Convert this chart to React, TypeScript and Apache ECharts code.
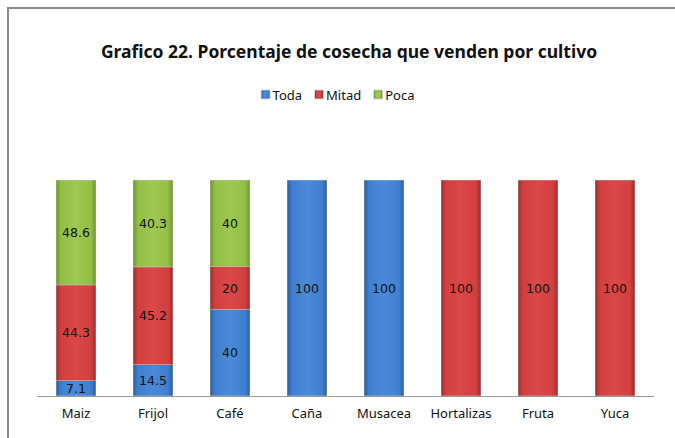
import React, { useEffect, useRef } from "react";
import * as echarts from "echarts";

const categories = ["Maiz", "Frijol", "Café", "Caña", "Musacea", "Hortalizas", "Fruta", "Yuca"];
const toda = [7.1, 14.5, 40, 100, 100, null, null, null];
const mitad = [44.3, 45.2, 20, null, null, 100, 100, 100];
const poca = [48.6, 40.3, 40, null, null, null, null, null];
const seriesNames = ["Toda", "Mitad", "Poca"];

function bevel(dark: string, mid: string, light: string) {
  return new echarts.graphic.LinearGradient(0, 0, 1, 0, [
    { offset: 0, color: dark },
    { offset: 0.12, color: mid },
    { offset: 0.5, color: light },
    { offset: 0.88, color: mid },
    { offset: 1, color: dark },
  ]);
}

export default function App() {
  const ref = useRef<HTMLDivElement>(null);
  useEffect(() => {
    document.body.style.margin = "0";
    const chart = echarts.init(ref.current!, null, { renderer: "svg" });
    const font = "Noto Sans";
    const label = {
      show: true,
      position: "inside",
      color: "#111",
      fontFamily: "DejaVu Sans",
      fontSize: 12.5,
      formatter: (p: any) => (p.value == null ? "" : String(p.value)),
    };
    const mk = (name: string, data: any[], color: any) => ({
      name,
      type: "bar",
      stack: "total",
      data,
      barWidth: 40,
      itemStyle: { color, borderColor: "rgba(0,0,0,0.15)", borderWidth: 0.5 },
      label,
      emphasis: { disabled: true },
    });
    chart.setOption({
      animation: false,
      color: ["#3F7FCF", "#D23F3F", "#93BF45"],
      title: {
        text: "Grafico 22. Porcentaje de cosecha que venden por cultivo",
        left: 344,
        textAlign: "center",
        top: 37,
        textStyle: { fontFamily: font, fontWeight: "bold", fontSize: 17.5, color: "#111" },
      },
      legend: {
        data: seriesNames,
        top: 83,
        left: "center",
        itemWidth: 8,
        itemHeight: 8,
        itemGap: 12,
        icon: "rect",
        textStyle: { fontFamily: font, fontSize: 13, color: "#111", padding: [0, 0, 0, -2] },
      },
      grid: { left: 37.5, right: 21.5, top: 180, bottom: 42 },
      xAxis: {
        type: "category",
        data: categories,
        axisLine: { lineStyle: { color: "#999", width: 1 } },
        axisTick: { show: false },
        axisLabel: { fontFamily: font, fontSize: 13, color: "#111", margin: 10, interval: 0 },
      },
      yAxis: {
        type: "value",
        min: 0,
        max: 100,
        show: false,
        splitLine: { show: false },
      },
      graphic: [
        {
          type: "rect",
          shape: { x: 8, y: 8, width: 800, height: 600 },
          style: { fill: "none", stroke: "#8a8a8a", lineWidth: 2 },
          silent: true,
        },
      ],
      series: [
        mk("Toda", toda, bevel("#2c5f9e", "#3F7FCF", "#4a8ad8")),
        mk("Mitad", mitad, bevel("#9e2d2d", "#D23F3F", "#dc4848")),
        mk("Poca", poca, bevel("#6f9430", "#93BF45", "#9dc852")),
      ],
    });
    return () => chart.dispose();
  }, []);
  return <div ref={ref} style={{ width: 675, height: 438 }} />;
}
